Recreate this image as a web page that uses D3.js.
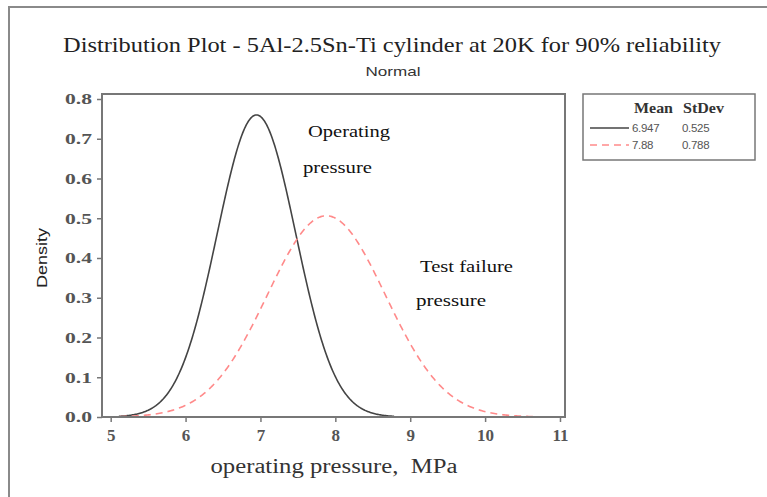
<!DOCTYPE html>
<html><head><meta charset="utf-8">
<script src="https://cdn.jsdelivr.net/npm/d3@7"></script>
<style>body{margin:0;background:#fff}</style>
</head><body>
<svg id="c" width="767" height="497"></svg>
<script>
const seriesNames = ["Operating pressure", "Test failure pressure"];
const means = [6.947, 7.88];
const stdevs = [0.525, 0.788];
const colors = ["#444444", "#ff8a8a"];
const dashes = [null, "7,5"];
const xTicks = [5, 6, 7, 8, 9, 10, 11];
const yTicks = [0.0, 0.1, 0.2, 0.3, 0.4, 0.5, 0.6, 0.7, 0.8];

const svg = d3.select("#c");
const L = 102, R = 565, T = 94, B = 417;
const x = d3.scaleLinear().domain([4.884, 11.067]).range([L, R]);
const y = d3.scaleLinear().domain([0, 0.8126]).range([B, T]);

function stretched(sel, len) { return sel.attr("textLength", len).attr("lengthAdjust", "spacingAndGlyphs"); }

// outer frame
svg.append("path").attr("d", "M9,497 V7 H767").attr("fill","none").attr("stroke","#8a8a8a").attr("stroke-width",2);

// title
stretched(svg.append("text").attr("x",392).attr("y",52).attr("text-anchor","middle")
  .attr("font-family","Liberation Serif").attr("font-size",22).attr("fill","#222")
  .text("Distribution Plot - 5Al-2.5Sn-Ti cylinder at 20K for 90% reliability"), 658);
stretched(svg.append("text").attr("x",393).attr("y",76).attr("text-anchor","middle")
  .attr("font-family","Liberation Sans").attr("font-size",13).attr("fill","#333").text("Normal"), 55);

// axes
const fmt = d3.format(".1f");
const ax = svg.append("g").attr("transform",`translate(0,${B})`)
  .call(d3.axisBottom(x).tickValues(xTicks).tickSize(5).tickSizeOuter(0).tickFormat(d3.format("d")));
const ay = svg.append("g").attr("transform",`translate(${L},0)`)
  .call(d3.axisLeft(y).tickValues(yTicks).tickSize(5).tickSizeOuter(0).tickFormat(fmt));
[ax, ay].forEach(g => {
  g.select(".domain").remove();
  g.selectAll(".tick line").attr("stroke","#777").attr("stroke-width",1.5);
  g.selectAll(".tick text").attr("font-family","Liberation Serif").attr("font-size",15.5)
    .attr("font-weight","bold").attr("fill","#555");
});
ax.selectAll(".tick text").attr("font-size",17).attr("dy","0.95em");
ay.selectAll(".tick text").attr("dx","-2").attr("textLength",27).attr("lengthAdjust","spacingAndGlyphs");

// curves
const line = d3.line().x(d => x(d[0])).y(d => y(d[1]));
means.forEach((m, i) => {
  const s = stdevs[i];
  const lo = m - 3.5 * s, hi = m + 3.5 * s;
  const pts = d3.range(0, 301).map(k => {
    const v = lo + (hi - lo) * k / 300;
    return [v, Math.exp(-0.5 * ((v - m) / s) ** 2) / (s * Math.sqrt(2 * Math.PI))];
  });
  svg.append("path").datum(pts).attr("d", line).attr("fill","none")
    .attr("stroke", colors[i]).attr("stroke-width", 1.6)
    .attr("stroke-dasharray", dashes[i]);
});

// plot frame
svg.append("rect").attr("x",L).attr("y",T).attr("width",R-L).attr("height",B-T)
  .attr("fill","none").attr("stroke","#777").attr("stroke-width",2);

// axis labels
stretched(svg.append("text").attr("x",334).attr("y",473).attr("text-anchor","middle")
  .attr("font-family","Liberation Serif").attr("font-size",20).attr("fill","#333")
  .attr("xml:space","preserve").style("white-space","pre")
  .text("operating pressure,  MPa"), 247);
stretched(svg.append("text").attr("transform","translate(47,258) rotate(-90)").attr("text-anchor","middle")
  .attr("font-family","Liberation Sans").attr("font-size",14).attr("fill","#222").text("Density"), 60);

// annotations
const ann = [["Operating", 308, 137, 82], ["pressure", 303, 173, 69], ["Test failure", 420, 272, 93], ["pressure", 416, 306, 70]];
ann.forEach(a => stretched(svg.append("text").attr("x",a[1]).attr("y",a[2])
  .attr("font-family","Liberation Serif").attr("font-size",17).attr("fill","#111").text(a[0]), a[3]));

// legend
const lg = svg.append("g");
lg.append("rect").attr("x",583).attr("y",94).attr("width",172).attr("height",66)
  .attr("fill","#fff").attr("stroke","#777").attr("stroke-width",1.5);
stretched(lg.append("text").attr("x",634).attr("y",113).attr("font-family","Liberation Serif")
  .attr("font-size",15).attr("font-weight","bold").attr("fill","#333").text("Mean"), 39);
stretched(lg.append("text").attr("x",683).attr("y",113).attr("font-family","Liberation Serif")
  .attr("font-size",15).attr("font-weight","bold").attr("fill","#333").text("StDev"), 41);
means.forEach((m, i) => {
  const yy = 128 + i * 17;
  lg.append("line").attr("x1",590).attr("x2",629).attr("y1",yy).attr("y2",yy)
    .attr("stroke",colors[i]).attr("stroke-width",1.6).attr("stroke-dasharray",dashes[i]);
  lg.append("text").attr("x",632).attr("y",yy+4).attr("font-family","Liberation Sans")
    .attr("font-size",11.5).attr("fill","#555").attr("letter-spacing","-0.3").text(String(m));
  lg.append("text").attr("x",682).attr("y",yy+4).attr("font-family","Liberation Sans")
    .attr("font-size",11.5).attr("fill","#555").attr("letter-spacing","-0.3").text(String(stdevs[i]));
});
</script>
</body></html>
